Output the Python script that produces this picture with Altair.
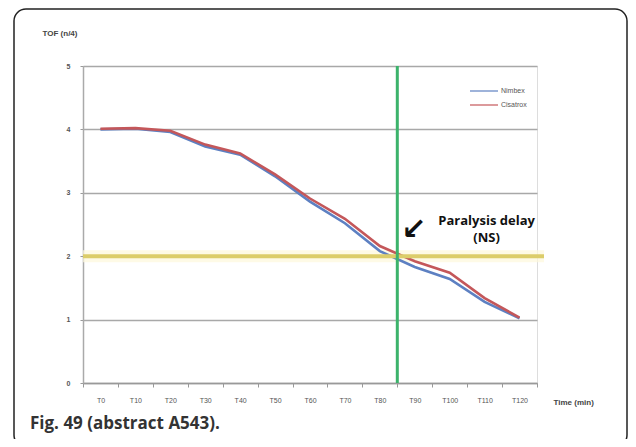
import altair as alt
import pandas as pd

# ---- data ----
times = ["T0", "T10", "T20", "T30", "T40", "T50", "T60", "T70", "T80", "T90", "T100", "T110", "T120"]
nimbex = [4.00, 4.01, 3.96, 3.73, 3.60, 3.26, 2.86, 2.52, 2.08, 1.83, 1.64, 1.28, 1.02]
cisatrox = [4.01, 4.02, 3.98, 3.76, 3.62, 3.29, 2.91, 2.59, 2.16, 1.92, 1.74, 1.34, 1.03]
series = ["Nimbex", "Cisatrox"]
colors = ["#5d80c2", "#c4575a"]
y_ticks = [0, 1, 2, 3, 4, 5]
threshold = 2
delay_at = "T80"  # green line sits at the right edge of the T80 band
caption = "Fig. 49 (abstract A543)."

W, H = 454, 317

rows = []
for t, a, b in zip(times, nimbex, cisatrox):
    rows.append({"t": t, "s": series[0], "v": a})
    rows.append({"t": t, "s": series[1], "v": b})
df = pd.DataFrame(rows)

xs = alt.Scale(type="band", domain=times, paddingInner=0, paddingOuter=0)
ys = alt.Scale(domain=[0, 5], nice=False)
cs = alt.Scale(domain=series, range=colors)

x_axis = alt.Axis(
    title="Time (min)", titleX=470, titleY=19, titleAlign="left", titleBaseline="middle",
    titleAngle=0, titleFontSize=8, titleFontWeight="bold", titleColor="#444",
    labelAngle=0, labelFontSize=7, labelColor="#555", labelPadding=9,
    tickBand="extent", tickSize=4, tickColor="#999", domainColor="#999", domainWidth=1.5,
    grid=False,
)
y_axis = alt.Axis(
    values=y_ticks, format="d", title="TOF (n/4)", titleX=-41, titleY=-33, titleAlign="left",
    titleBaseline="middle", titleAngle=0, titleFontSize=8, titleFontWeight="bold",
    titleColor="#444", labelFontSize=7, labelColor="#555", labelFontWeight="bold",
    labelPadding=10, tickSize=3, tickColor="#999", domainColor="#aaa", domainWidth=1.5,
    grid=True, gridColor="#a8a8a8", gridWidth=1.5,
)

base = alt.Chart(df)

lines = base.mark_line(strokeWidth=2.6).encode(
    x=alt.X("t:N", scale=xs, axis=x_axis, sort=times),
    y=alt.Y("v:Q", scale=ys, axis=y_axis),
    color=alt.Color("s:N", scale=cs, legend=None),
    order=alt.Order("s:N"),
)

thr = pd.DataFrame({"y": [threshold]})
glow = alt.Chart(thr).mark_rule(color="#fdf8dc", strokeWidth=12, opacity=0.7).encode(
    y=alt.Y("y:Q", scale=ys), x=alt.value(0), x2=alt.value(W + 7))
yellow = alt.Chart(thr).mark_rule(color="#dccd6a", strokeWidth=4).encode(
    y=alt.Y("y:Q", scale=ys), x=alt.value(0), x2=alt.value(W + 7))

green = alt.Chart(pd.DataFrame({"t": [delay_at]})).mark_rule(
    color="#3cb36b", strokeWidth=3).encode(
    x=alt.X("t:N", scale=xs, bandPosition=1))

ann = pd.DataFrame({
    "t": ["T110", "T110"], "v": [2.56, 2.28], "txt": ["Paralysis delay", "(NS)"]})
ann_text = alt.Chart(ann).mark_text(
    font="Open Sans", fontWeight="bold", fontSize=13, color="#111", dx=2).encode(
    x=alt.X("t:N", scale=xs), y=alt.Y("v:Q", scale=ys), text="txt:N")

arrow = alt.Chart(pd.DataFrame({"t": ["T90"], "v": [2.42], "txt": ["\u2199"]})).mark_text(
    font="DejaVu Sans", fontWeight="bold", fontSize=30, color="#111", dx=-1).encode(
    x=alt.X("t:N", scale=xs), y=alt.Y("v:Q", scale=ys), text="txt:N")

# legend (top right, inside plot)
leg_layers = []
for i, (name, col) in enumerate(zip(series, colors)):
    yy = 25 + i * 14
    d = pd.DataFrame({"name": [name]})
    leg_layers.append(alt.Chart(d).mark_rule(color=col, strokeWidth=2, opacity=0.6).encode(
        x=alt.value(387), x2=alt.value(415), y=alt.value(yy)))
    leg_layers.append(alt.Chart(d).mark_text(
        align="left", baseline="middle", fontSize=7, color="#555").encode(
        x=alt.value(418), y=alt.value(yy), text="name:N"))

cap = alt.Chart(pd.DataFrame({"c": [caption]})).mark_text(
    align="left", baseline="middle", font="Open Sans", fontWeight="bold",
    fontSize=17, color="#333").encode(
    x=alt.value(-53), y=alt.value(358), text="c:N")

frame = alt.Chart(pd.DataFrame({"f": [0]})).mark_rect(
    fill="transparent", stroke="#222", strokeWidth=1.5, cornerRadius=12).encode(
    x=alt.value(-69), x2=alt.value(W + 90), y=alt.value(-57), y2=alt.value(H + 64))

chart = alt.layer(
    frame, glow, lines, yellow, green, ann_text, arrow, cap, *leg_layers
).properties(
    width=W, height=H,
    autosize=alt.AutoSizeParams(type="none"),
    padding={"left": 75, "top": 58, "right": 91, "bottom": 56},
).configure_view(stroke=None).configure(background="white")

chart.save("out.html", embed_options={"renderer": "svg", "actions": False})
